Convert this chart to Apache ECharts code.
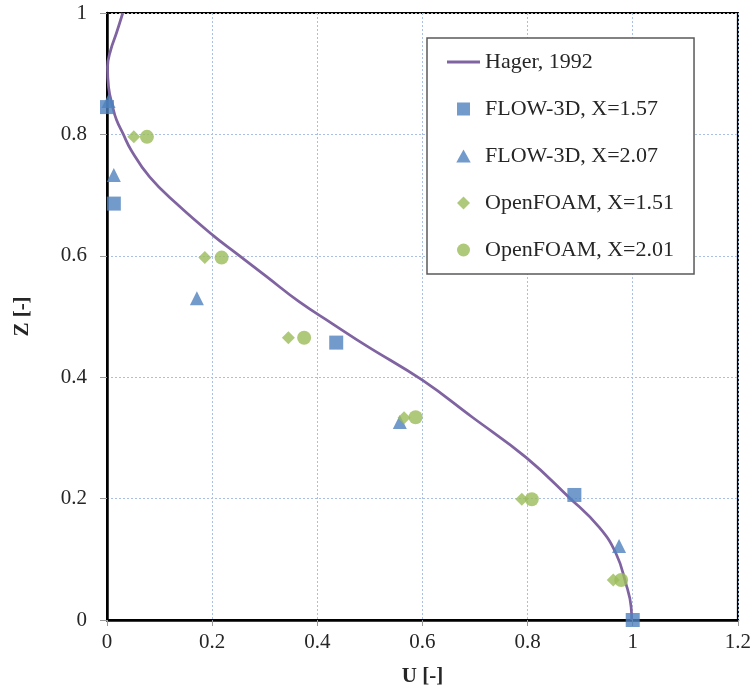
<!DOCTYPE html>
<html>
<head>
<meta charset="utf-8">
<script src="https://cdn.jsdelivr.net/npm/echarts@6/dist/echarts.min.js"></script>
<style>
html,body{margin:0;padding:0;background:#fff;}
#chart{width:754px;height:695px;}
</style>
</head>
<body>
<div id="chart"></div>
<script>
// Hager, 1992 profile
var hagerU = [0.998, 0.997, 0.987, 0.968, 0.936, 0.879, 0.797, 0.695, 0.600, 0.493, 0.429, 0.366, 0.303, 0.246, 0.201, 0.132, 0.081, 0.046, 0.030, 0.018, 0.011, 0.003, 0.001, 0.007, 0.018, 0.030];
var hagerZ = [0.000, 0.021, 0.060, 0.110, 0.153, 0.202, 0.268, 0.334, 0.395, 0.452, 0.488, 0.524, 0.566, 0.604, 0.634, 0.686, 0.730, 0.774, 0.802, 0.824, 0.845, 0.878, 0.911, 0.939, 0.967, 1.000];

// FLOW-3D, X=1.57
var flow157U = [0.000, 0.013, 0.436, 0.889, 1.000];
var flow157Z = [0.845, 0.686, 0.457, 0.206, 0.000];

// FLOW-3D, X=2.07
var flow207U = [0.003, 0.013, 0.171, 0.557, 0.974];
var flow207Z = [0.855, 0.733, 0.530, 0.326, 0.122];

// OpenFOAM, X=1.51
var of151U = [0.051, 0.186, 0.345, 0.565, 0.789, 0.963];
var of151Z = [0.796, 0.597, 0.465, 0.333, 0.199, 0.066];

// OpenFOAM, X=2.01
var of201U = [0.076, 0.218, 0.375, 0.587, 0.808, 0.978];
var of201Z = [0.796, 0.597, 0.465, 0.334, 0.199, 0.066];

var seriesNames = ['Hager, 1992', 'FLOW-3D, X=1.57', 'FLOW-3D, X=2.07', 'OpenFOAM, X=1.51', 'OpenFOAM, X=2.01'];
var xTitle = 'U [-]';
var yTitle = 'Z [-]';

function pairs(u, z) {
  var out = [];
  for (var i = 0; i < u.length; i++) out.push([u[i], z[i]]);
  return out;
}

var FONT = 'Liberation Serif';
var BLUE = '#4F81BD', GREEN = '#9BBB59', PURPLE = '#8064A2';
var gridLine = {show: true, lineStyle: {color: '#A9BFE8', type: [2, 2], width: 1}};

var legendIcons = [
  'path://M0,0H33V2.8H0Z',
  'path://M0,0H10V10H0Z',
  'path://M5,0L10,9H0Z',
  'path://M5,0L10,5L5,10L0,5Z',
  'path://M5,0A5,5,0,1,1,5,10A5,5,0,1,1,5,0Z'
];

var chart = echarts.init(document.getElementById('chart'), null, {renderer: 'canvas'});
chart.setOption({
  animation: false,
  backgroundColor: '#fff',
  grid: {left: 107, right: 15, top: 13, bottom: 75, show: true, borderColor: '#000', borderWidth: 2, backgroundColor: 'transparent'},
  xAxis: {
    type: 'value', min: 0, max: 1.2, interval: 0.2,
    name: xTitle, nameLocation: 'middle', nameGap: 46,
    nameTextStyle: {fontFamily: FONT, fontWeight: 'bold', fontSize: 21, color: '#262626'},
    axisLine: {show: true, lineStyle: {color: '#000', width: 2.5}},
    axisTick: {show: true, inside: false, length: 6, lineStyle: {color: '#999'}},
    axisLabel: {fontFamily: FONT, fontSize: 21, color: '#262626', margin: 12},
    splitLine: gridLine
  },
  yAxis: {
    type: 'value', min: 0, max: 1, interval: 0.2,
    name: yTitle, nameLocation: 'middle', nameGap: 74, nameRotate: 90,
    nameTextStyle: {fontFamily: FONT, fontWeight: 'bold', fontSize: 21, color: '#262626'},
    axisLine: {show: true, lineStyle: {color: '#000', width: 2.5}},
    axisTick: {show: true, inside: false, length: 7, lineStyle: {color: '#999'}},
    axisLabel: {fontFamily: FONT, fontSize: 21, color: '#262626', margin: 20},
    splitLine: gridLine
  },
  legend: {
    orient: 'vertical', left: 427, top: 38,
    padding: [13, 20, 13, 20],
    itemGap: 25, itemWidth: 33, itemHeight: 13,
    symbolKeepAspect: true,
    backgroundColor: '#fff', borderColor: '#595959', borderWidth: 1.5,
    textStyle: {fontFamily: FONT, fontSize: 22, color: '#262626'},
    data: seriesNames.map(function (n, i) { return {name: n, icon: legendIcons[i]}; })
  },
  series: [
    {name: seriesNames[0], type: 'line', data: pairs(hagerU, hagerZ), smooth: 0.45, showSymbol: false, symbol: 'none',
     lineStyle: {color: PURPLE, width: 2.75}, itemStyle: {color: PURPLE}, z: 2},
    {name: seriesNames[1], type: 'scatter', data: pairs(flow157U, flow157Z), symbol: 'rect', symbolSize: 14, clip: false,
     itemStyle: {color: BLUE}, z: 3},
    {name: seriesNames[2], type: 'scatter', data: pairs(flow207U, flow207Z), symbol: 'triangle', symbolSize: 14, clip: false,
     itemStyle: {color: BLUE}, z: 3},
    {name: seriesNames[3], type: 'scatter', data: pairs(of151U, of151Z), symbol: 'diamond', symbolSize: 13, clip: false,
     itemStyle: {color: GREEN}, z: 4},
    {name: seriesNames[4], type: 'scatter', data: pairs(of201U, of201Z), symbol: 'circle', symbolSize: 14, clip: false,
     itemStyle: {color: GREEN}, z: 4}
  ]
});
</script>
</body>
</html>
